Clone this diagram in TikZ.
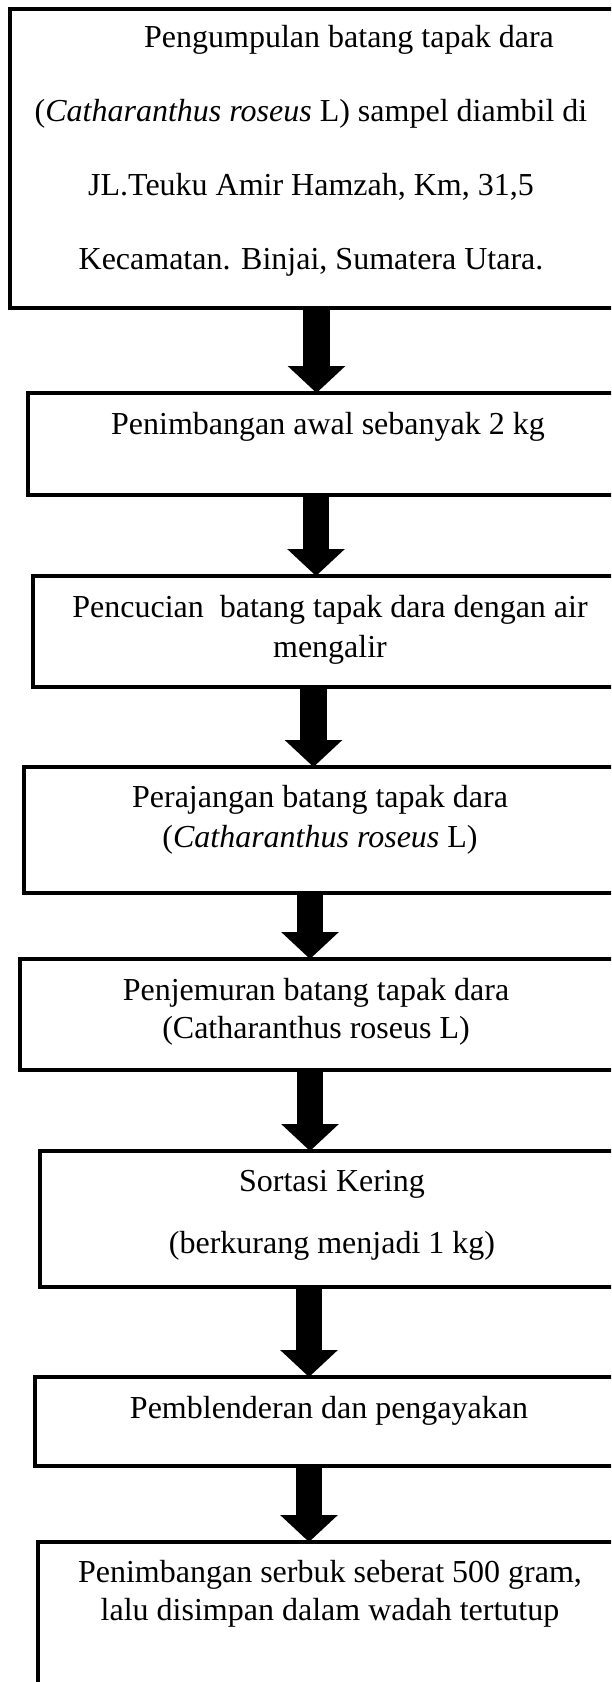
\documentclass[tikz,border=0pt]{standalone}
\usepackage{fontspec}
\setmainfont{Liberation Serif}
\usetikzlibrary{arrows.meta}
\begin{document}
\begin{tikzpicture}[x=0.375pt,y=-0.375pt,
    box/.style={draw, line width=1.2pt, anchor=north west, inner sep=0pt, outer sep=0pt, minimum width=232pt},
    txt/.style={anchor=base, align=center, inner sep=0pt, font=\fontsize{12}{15}\selectfont},
    flow/.style={line width=10.1pt, -{Triangle[length=10.1pt,width=21pt]}}]
  \clip (0,0) rectangle (611,1682);
  % boxes
  \node[box, minimum height=112.1pt] (b1) at (10,9) {};
  \node[box, minimum height=38.25pt] (b2) at (28,393) {};
  \node[box, minimum height=41.6pt] (b3) at (33,576) {};
  \node[box, minimum height=47.25pt] (b4) at (24,767) {};
  \node[box, minimum height=41.6pt] (b5) at (20,959) {};
  \node[box, minimum height=51pt] (b6) at (40,1151) {};
  \node[box, minimum height=33.4pt] (b7) at (35,1377) {};
  \node[box, minimum height=60pt] (b8) at (38,1542) {};
  % texts (base = last line)
  \node[txt, font=\fontsize{12}{27.75}\selectfont] (t1) at (311,270)
    {\hspace*{28.5pt}Pengumpulan batang tapak dara\\(\textit{Catharanthus roseus} L) sampel diambil di\\JL.Teuku Amir Hamzah, Km, 31,5\\Kecamatan. Binjai, Sumatera Utara.};
  \node[txt] (t2) at (328,435) {Penimbangan awal sebanyak 2 kg};
  \node[txt] (t3) at (330,657) {Pencucian\ \ batang tapak dara dengan air\\mengalir};
  \node[txt] (t4) at (320,847) {Perajangan batang tapak dara\\(\textit{Catharanthus roseus} L)};
  \node[txt, font=\fontsize{12}{14.25}\selectfont] (t5) at (316,1038) {Penjemuran batang tapak dara\\(Catharanthus roseus L)};
  \node[txt, font=\fontsize{12}{22.9}\selectfont] (t6) at (332,1253) {Sortasi Kering\\(berkurang menjadi 1 kg)};
  \node[txt] (t7) at (329,1418) {Pemblenderan dan pengayakan};
  \node[txt, font=\fontsize{12}{14.25}\selectfont] (t8) at (330,1620) {Penimbangan serbuk seberat 500 gram,\\lalu disimpan dalam wadah tertutup};
  % arrows
  \coordinate (a1) at (316.5,0);
  \coordinate (a2) at (316,0);
  \coordinate (a3) at (313.5,0);
  \coordinate (a4) at (310,0);
  \coordinate (a5) at (310,0);
  \coordinate (a6) at (309,0);
  \coordinate (a7) at (309,0);
  \draw[flow] (a1 |- b1.south) -- (a1 |- b2.north);
  \draw[flow] (a2 |- b2.south) -- (a2 |- b3.north);
  \draw[flow] (a3 |- b3.south) -- (a3 |- b4.north);
  \draw[flow] (a4 |- b4.south) -- (a4 |- b5.north);
  \draw[flow] (a5 |- b5.south) -- (a5 |- b6.north);
  \draw[flow] (a6 |- b6.south) -- (a6 |- b7.north);
  \draw[flow] (a7 |- b7.south) -- (a7 |- b8.north);
\end{tikzpicture}
\end{document}
